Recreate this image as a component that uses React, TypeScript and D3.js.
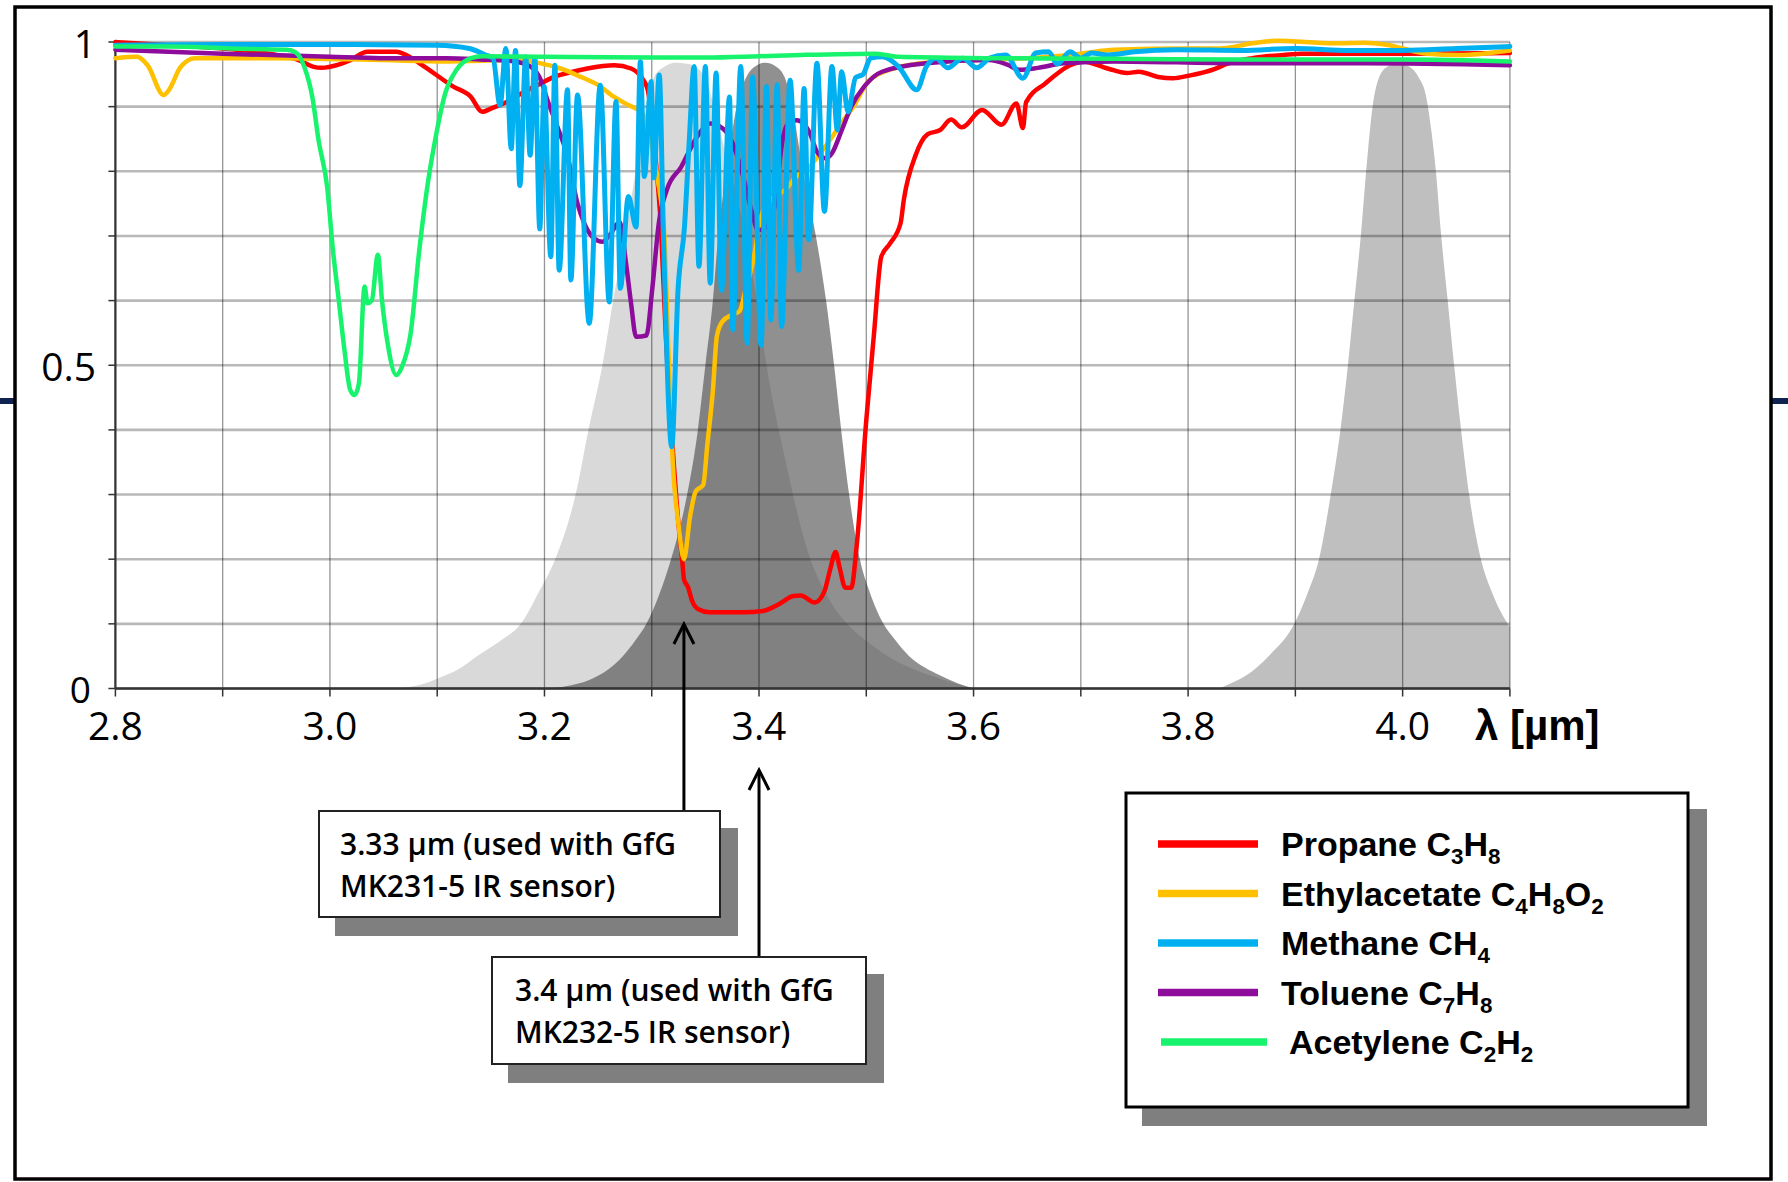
import React from 'react';
import * as d3 from 'd3';

// ---------- data ----------
const xTickLabels = [2.8, 3.0, 3.2, 3.4, 3.6, 3.8, 4.0];
const yTickLabels = [0, 0.5, 1];

// filter transmission curves [wavelength µm, transmission]
const filter333 = [[3.065,0],[3.085,0.006],[3.10,0.015],[3.12,0.03],[3.137,0.05],[3.16,0.075],[3.178,0.1],[3.195,0.15],[3.21,0.2],[3.229,0.3],[3.241,0.4],[3.254,0.5],[3.264,0.6],[3.275,0.7],[3.285,0.8],[3.294,0.9],[3.302,0.945],[3.312,0.962],[3.322,0.968],[3.334,0.966],[3.344,0.958],[3.352,0.935],[3.358,0.9],[3.37,0.82],[3.385,0.72],[3.397,0.61],[3.409,0.48],[3.425,0.35],[3.444,0.22],[3.466,0.136],[3.485,0.095],[3.503,0.07],[3.525,0.045],[3.55,0.026],[3.575,0.012],[3.6,0]];
const filter340 = [[3.205,0],[3.225,0.005],[3.24,0.012],[3.26,0.03],[3.273,0.05],[3.285,0.075],[3.295,0.1],[3.308,0.15],[3.318,0.2],[3.333,0.3],[3.343,0.4],[3.35,0.5],[3.357,0.6],[3.362,0.7],[3.37,0.8],[3.379,0.9],[3.388,0.945],[3.397,0.963],[3.406,0.968],[3.415,0.963],[3.424,0.945],[3.431,0.9],[3.441,0.8],[3.453,0.7],[3.4625,0.6],[3.47,0.5],[3.4766,0.4],[3.484,0.3],[3.494,0.2],[3.503,0.15],[3.516,0.1],[3.527,0.075],[3.54,0.05],[3.555,0.032],[3.569,0.02],[3.585,0.008],[3.6,0]];
const filter400 = [[3.829,0],[3.84,0.008],[3.854,0.02],[3.875,0.05],[3.899,0.1],[3.912,0.15],[3.922,0.2],[3.933,0.3],[3.942,0.4],[3.949,0.5],[3.955,0.6],[3.961,0.7],[3.966,0.8],[3.972,0.9],[3.978,0.945],[3.986,0.962],[3.996,0.967],[4.006,0.962],[4.015,0.945],[4.022,0.915],[4.027,0.86],[4.031,0.8],[4.036,0.7],[4.042,0.6],[4.048,0.5],[4.0545,0.4],[4.062,0.3],[4.073,0.2],[4.083,0.15],[4.098,0.1],[4.1,0.095]];

// gas transmission spectra [wavelength µm, transmission]
const propane = [[2.8,1.0],[2.85,0.995],[2.9,0.99],[2.95,0.98],[2.9707,0.972],[2.984,0.962],[2.992,0.96],[3.008,0.965],[3.019,0.972],[3.035,0.985],[3.062,0.985],[3.072,0.979],[3.088,0.962],[3.115,0.931],[3.131,0.916],[3.142,0.892],[3.15,0.897],[3.162,0.905],[3.178,0.92],[3.1966,0.936],[3.209,0.946],[3.2215,0.952],[3.24,0.959],[3.265,0.964],[3.2807,0.959],[3.29,0.946],[3.296,0.928],[3.3025,0.838],[3.3087,0.709],[3.313,0.55],[3.3196,0.37],[3.325,0.253],[3.3286,0.195],[3.33,0.169],[3.334,0.156],[3.3375,0.136],[3.343,0.123],[3.3536,0.118],[3.3857,0.118],[3.4036,0.12],[3.418,0.13],[3.432,0.143],[3.439,0.144],[3.4518,0.133],[3.4607,0.149],[3.466,0.182],[3.4714,0.211],[3.475,0.188],[3.4804,0.156],[3.486,0.156],[3.491,0.22],[3.5,0.415],[3.507,0.545],[3.514,0.668],[3.522,0.688],[3.532,0.72],[3.535,0.756],[3.546,0.825],[3.557,0.857],[3.569,0.864],[3.579,0.88],[3.589,0.868],[3.608,0.895],[3.626,0.872],[3.64,0.905],[3.646,0.867],[3.649,0.907],[3.667,0.936],[3.69,0.964],[3.702,0.97],[3.725,0.959],[3.743,0.952],[3.754,0.954],[3.772,0.946],[3.786,0.944],[3.801,0.948],[3.8245,0.958],[3.836,0.966],[3.86,0.975],[3.889,0.98],[3.906,0.982],[4.0,0.982],[4.1,0.983]];
const ethylacetate = [[2.8,0.975],[2.82,0.977],[2.83,0.964],[2.845,0.918],[2.85,0.926],[2.8606,0.961],[2.8743,0.975],[2.95,0.975],[3.05,0.972],[3.109,0.97],[3.1717,0.972],[3.1966,0.967],[3.215,0.959],[3.234,0.946],[3.2495,0.934],[3.265,0.915],[3.2776,0.903],[3.2854,0.897],[3.293,0.885],[3.2994,0.848],[3.3056,0.787],[3.3118,0.699],[3.315,0.55],[3.3196,0.35],[3.325,0.253],[3.33,0.2],[3.3357,0.266],[3.341,0.305],[3.348,0.315],[3.3518,0.377],[3.357,0.461],[3.3607,0.545],[3.366,0.568],[3.375,0.578],[3.382,0.584],[3.3875,0.617],[3.3946,0.662],[3.402,0.73],[3.414,0.761],[3.423,0.769],[3.435,0.792],[3.446,0.805],[3.4536,0.82],[3.4625,0.84],[3.475,0.87],[3.489,0.903],[3.5,0.935],[3.511,0.95],[3.5556,0.968],[3.6,0.972],[3.65,0.975],[3.7,0.982],[3.731,0.988],[3.801,0.99],[3.83,0.99],[3.86,0.998],[3.883,1.002],[3.936,0.998],[3.965,0.999],[3.988,0.995],[4.0,0.99],[4.023,0.982],[4.053,0.98],[4.1,0.987]];
const methane = [[2.8,0.995],[2.9,0.996],[3.0,0.996],[3.1,0.995],[3.13,0.99],[3.145,0.98],[3.152,0.975],[3.1586,0.902],[3.164,0.99],[3.169,0.835],[3.173,0.987],[3.177,0.778],[3.1825,0.977],[3.1866,0.825],[3.191,0.974],[3.1956,0.711],[3.1997,0.931],[3.2059,0.668],[3.2097,0.964],[3.2137,0.647],[3.2215,0.926],[3.2246,0.632],[3.2308,0.918],[3.2417,0.565],[3.252,0.933],[3.2604,0.598],[3.2667,0.908],[3.2707,0.619],[3.2782,0.761],[3.2854,0.714],[3.2894,0.97],[3.2931,0.792],[3.2994,0.939],[3.3019,0.79],[3.307,0.949],[3.311,0.694],[3.3186,0.374],[3.3245,0.617],[3.3305,0.714],[3.335,0.848],[3.3395,0.962],[3.344,0.653],[3.35,0.962],[3.3545,0.627],[3.36,0.952],[3.365,0.616],[3.3725,0.915],[3.3755,0.555],[3.383,0.962],[3.389,0.534],[3.394,0.946],[3.402,0.531],[3.407,0.931],[3.411,0.57],[3.417,0.934],[3.421,0.56],[3.429,0.941],[3.437,0.647],[3.442,0.928],[3.4464,0.694],[3.454,0.967],[3.461,0.738],[3.468,0.962],[3.473,0.864],[3.477,0.954],[3.483,0.892],[3.49,0.945],[3.497,0.95],[3.504,0.975],[3.515,0.977],[3.53,0.962],[3.547,0.926],[3.556,0.962],[3.565,0.975],[3.576,0.96],[3.59,0.975],[3.603,0.96],[3.615,0.975],[3.63,0.98],[3.646,0.944],[3.658,0.983],[3.67,0.985],[3.678,0.966],[3.69,0.985],[3.7,0.975],[3.71,0.983],[3.725,0.98],[3.75,0.985],[3.79,0.988],[3.85,0.987],[3.9,0.99],[3.95,0.987],[4.0,0.987],[4.05,0.99],[4.1,0.993]];
const toluene = [[2.8,0.988],[2.9,0.982],[3.0,0.977],[3.047,0.975],[3.109,0.975],[3.14,0.973],[3.1717,0.97],[3.187,0.962],[3.1966,0.941],[3.2028,0.91],[3.212,0.869],[3.2215,0.823],[3.2308,0.75],[3.237,0.72],[3.2464,0.696],[3.254,0.691],[3.262,0.704],[3.27,0.722],[3.276,0.658],[3.2807,0.596],[3.2854,0.544],[3.295,0.546],[3.3006,0.62],[3.3066,0.72],[3.314,0.771],[3.3275,0.807],[3.3425,0.854],[3.3545,0.874],[3.3665,0.866],[3.3755,0.843],[3.3844,0.797],[3.392,0.745],[3.3994,0.709],[3.4069,0.714],[3.4144,0.745],[3.4219,0.848],[3.4263,0.872],[3.4353,0.879],[3.4413,0.874],[3.4473,0.859],[3.4548,0.828],[3.4623,0.82],[3.468,0.828],[3.4772,0.864],[3.486,0.9],[3.498,0.931],[3.5146,0.954],[3.5556,0.967],[3.614,0.972],[3.6316,0.965],[3.643,0.957],[3.66,0.96],[3.684,0.967],[3.731,0.97],[3.848,0.967],[3.965,0.967],[4.1,0.964]];
const acetylene = [[2.8,0.993],[2.85,0.993],[2.907,0.99],[2.96,0.988],[2.968,0.984],[2.976,0.962],[2.984,0.911],[2.9894,0.848],[2.9974,0.776],[3.0028,0.678],[3.0082,0.601],[3.0135,0.524],[3.0189,0.462],[3.023,0.454],[3.027,0.472],[3.0323,0.622],[3.035,0.596],[3.039,0.6],[3.0447,0.671],[3.0485,0.601],[3.0538,0.534],[3.0619,0.485],[3.0672,0.498],[3.0752,0.549],[3.0833,0.678],[3.0913,0.782],[3.0993,0.859],[3.1074,0.92],[3.118,0.957],[3.1315,0.975],[3.142,0.978],[3.2,0.977],[3.3,0.976],[3.35,0.976],[3.4,0.978],[3.44,0.98],[3.509,0.982],[3.53,0.977],[3.614,0.975],[3.73,0.974],[3.848,0.973],[4.0,0.973],[4.1,0.97]];

const seriesNames = ['Propane C_3H_8', 'Ethylacetate C_4H_8O_2', 'Methane CH_4', 'Toluene C_7H_8', 'Acetylene C_2H_2'];
const seriesColors = ['#ff0000', '#ffc000', '#00b0f0', '#8e0c9c', '#17f36c'];
const seriesData = [propane, ethylacetate, methane, toluene, acetylene];
const drawOrder = [0, 1, 3, 2, 4];

const annotationLines = [
  ['3.33 µm (used with GfG', 'MK231-5 IR sensor)'],
  ['3.4 µm (used with GfG', 'MK232-5 IR sensor)'],
];
const annotationWavelengths = [3.33, 3.4];
const axisTitle = 'λ [µm]';

// ---------- helpers ----------
function parseFormula(s: string) {
  const parts: { t: string; sub: boolean }[] = [];
  const re = /_(\d)/g;
  let last = 0;
  let m: RegExpExecArray | null;
  while ((m = re.exec(s))) {
    if (m.index > last) parts.push({ t: s.slice(last, m.index), sub: false });
    parts.push({ t: m[1], sub: true });
    last = m.index + m[0].length;
  }
  if (last < s.length) parts.push({ t: s.slice(last), sub: false });
  return parts;
}

function Formula({ x, y, text, size }: { x: number; y: number; text: string; size: number }) {
  const parts = parseFormula(text);
  let cur = 0;
  return (
    <text x={x} y={y} fontFamily="'Liberation Sans', Arial, sans-serif" fontWeight="bold" fontSize={size} fill="#000">
      {parts.map((p, i) => {
        const target = p.sub ? 8 : 0;
        const dy = target - cur;
        cur = target;
        return (
          <tspan key={i} dy={dy} fontSize={p.sub ? size * 0.66 : size}>
            {p.t}
          </tspan>
        );
      })}
    </text>
  );
}

export default function App() {
  const W = 1788;
  const H = 1182;
  const x = d3.scaleLinear().domain([2.8, 4.1]).range([115.4, 1509.9]);
  const y = d3.scaleLinear().domain([0, 1]).range([688.5, 42]);

  const gridX = d3.range(0, 14).map((i) => +(2.8 + i * 0.1).toFixed(2));
  const gridY = d3.range(0, 11).map((i) => +(i * 0.1).toFixed(2));

  const area = d3
    .area<number[]>()
    .x((d) => x(d[0]))
    .y0(y(0))
    .y1((d) => y(d[1]))
    .curve(d3.curveMonotoneX);
  const line = d3
    .line<number[]>()
    .x((d) => x(d[0]))
    .y((d) => y(d[1]))
    .curve(d3.curveMonotoneX);

  const lx0 = 1126, ly0 = 793, lw = 562, lh = 314;

  const boxes = [
    { x: 319, y: 811, w: 401, h: 106, tx: 340, ty: 855 },
    { x: 492, y: 957, w: 374, h: 107, tx: 515, ty: 1001 },
  ];
  const arrowTips = [624, 770];

  return (
    <div style={{ position: 'absolute', left: 0, top: 0 }}>
      <svg width={W} height={H} viewBox={`0 0 ${W} ${H}`} style={{ display: 'block', background: '#fff' }}>
        <rect x={0} y={0} width={W} height={H} fill="#fff" />
        {/* slide frame */}
        <rect x={0} y={398} width={15} height={6} fill="#0f2250" />
        <rect x={1771} y={398} width={17} height={6} fill="#0f2250" />
        <rect x={15} y={7} width={1756} height={1172} fill="none" stroke="#000" strokeWidth={3.5} />

        {/* filters */}
        <path d={area(filter400) || ''} fill="#bfbfbf" />
        <path d={area(filter333) || ''} fill="#d9d9d9" />
        <path d={area(filter340) || ''} fill="rgb(70,70,70)" fillOpacity={0.6} />

        {/* grid */}
        {gridY.map((v) => (
          <line key={'gy' + v} x1={x(2.8)} x2={x(4.1)} y1={y(v)} y2={y(v)} stroke="#000" strokeOpacity={0.28} strokeWidth={2.6} />
        ))}
        {gridX.map((v) => (
          <line key={'gx' + v} x1={x(v)} x2={x(v)} y1={y(1)} y2={y(0)} stroke="#000" strokeOpacity={0.42} strokeWidth={1.3} />
        ))}
        {/* axes */}
        <line x1={x(2.8)} x2={x(4.1)} y1={y(0)} y2={y(0)} stroke="#333" strokeWidth={2.5} />
        <line x1={x(2.8)} x2={x(2.8)} y1={y(1)} y2={y(0)} stroke="#333" strokeWidth={2.2} />
        {gridX.map((v) => (
          <line key={'tx' + v} x1={x(v)} x2={x(v)} y1={y(0)} y2={y(0) + 8} stroke="#333" strokeWidth={1.5} />
        ))}
        {gridY.map((v) => (
          <line key={'ty' + v} x1={x(2.8) - 7} x2={x(2.8)} y1={y(v)} y2={y(v)} stroke="#333" strokeWidth={1.5} />
        ))}

        {/* spectra */}
        {drawOrder.map((i) => (
          <path
            key={'s' + i}
            d={line(seriesData[i]) || ''}
            fill="none"
            stroke={seriesColors[i]}
            strokeWidth={i === 2 ? 5 : 4.5}
            strokeLinejoin="round"
            strokeLinecap="round"
          />
        ))}

        {/* tick labels */}
        {xTickLabels.map((v) => (
          <text key={'xl' + v} x={x(v)} y={740} textAnchor="middle" fontFamily="'Open Sans', sans-serif" fontSize={39} fill="#000">
            {v.toFixed(1)}
          </text>
        ))}
        {yTickLabels.map((v) => (
          <text key={'yl' + v} x={v === 0 ? 91 : 96} y={y(v)} textAnchor="end" dominantBaseline="central" fontFamily="'Open Sans', sans-serif" fontSize={v === 0 ? 37 : 39} fill="#000">
            {v === 0.5 ? '0.5' : String(v)}
          </text>
        ))}
        <text x={1475} y={740} fontFamily="'Liberation Sans', Arial, sans-serif" fontWeight="bold" fontSize={42} fill="#000">
          {axisTitle}
        </text>

        {/* annotation arrows */}
        {annotationWavelengths.map((w, i) => {
          const ax = x(w);
          const tip = arrowTips[i];
          return (
            <g key={'ar' + i} stroke="#000" strokeWidth={3} fill="none">
              <line x1={ax} x2={ax} y1={boxes[i].y} y2={tip + 1} />
              <polyline points={`${ax - 10},${tip + 20} ${ax},${tip} ${ax + 10},${tip + 20}`} strokeLinejoin="miter" />
            </g>
          );
        })}

        {/* annotation boxes */}
        {boxes.map((b, i) => (
          <g key={'bx' + i}>
            <rect x={b.x + 16} y={b.y + 17} width={b.w + 2} height={b.h + 2} fill="#7f7f7f" />
            <rect x={b.x} y={b.y} width={b.w} height={b.h} fill="#fff" stroke="#222" strokeWidth={2} />
            {annotationLines[i].map((t, j) => (
              <text key={j} x={b.tx} y={b.ty + j * 42} fontFamily="'Open Sans', sans-serif" fontWeight={600} fontSize={30} fill="#000">
                {t}
              </text>
            ))}
          </g>
        ))}

        {/* legend */}
        <rect x={lx0 + 16} y={ly0 + 16} width={lw + 3} height={lh + 3} fill="#7f7f7f" />
        <rect x={lx0} y={ly0} width={lw} height={lh} fill="#fff" stroke="#000" strokeWidth={3} />
        {seriesNames.map((n, i) => {
          const ry = 844 + i * 49.5;
          const isLast = i === 4;
          return (
            <g key={'lg' + i}>
              <line x1={isLast ? 1161 : 1158} x2={isLast ? 1267 : 1258} y1={ry} y2={ry} stroke={seriesColors[i]} strokeWidth={7.5} />
              <Formula x={isLast ? 1289 : 1281} y={ry + 12} text={n} size={34} />
            </g>
          );
        })}
      </svg>
    </div>
  );
}
